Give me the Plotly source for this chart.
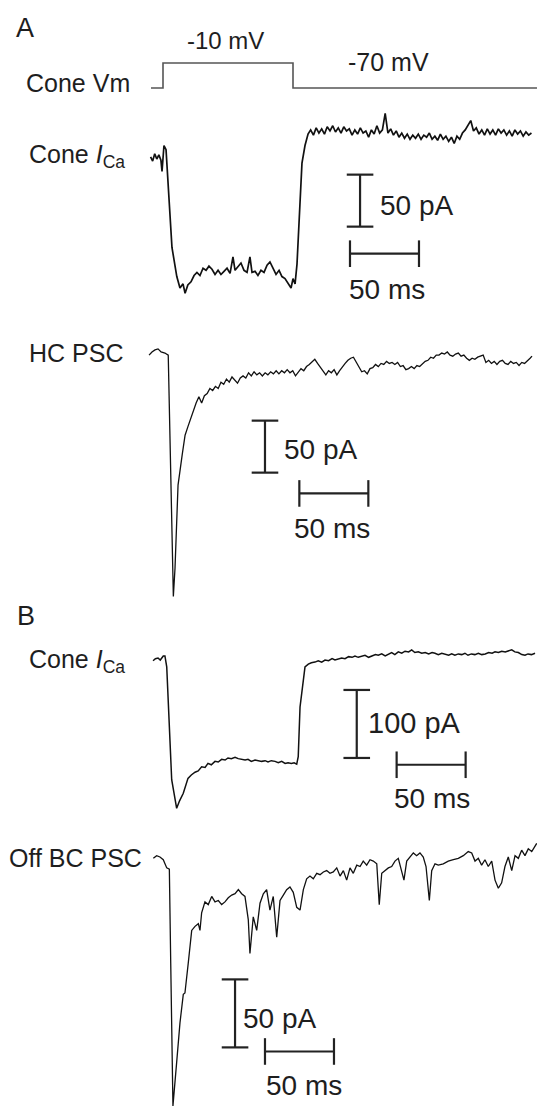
import plotly.graph_objects as go

# ---------------- data (time in ms from step onset, current in pA, voltage in mV)
t_vm = [-8.7, 0, 0, 94.2, 94.2, 271.0]
v_vm = [-70, -70, -10, -10, -70, -70]

t_a_ica = [-9, -7.5, -6, -4.5, -3, -1.5, -0.7, 0.7, 2.2, 6.5, 10, 12.3, 14.5, 16, 18, 20.3, 22.5, 24.6, 26.8,
           29, 31.2, 33.3, 35.5, 37.7, 39.9, 42, 44.2, 46.4, 48.6, 50.7, 52.2, 54.3, 56.5, 58.7, 60.9, 63, 64.5,
           66.7, 68.8, 71, 73.2, 75.4, 77.5, 79.7, 81.9, 84.1, 86.2, 88.4, 90.6, 92.8, 94.2, 95.7, 97.1, 99.3,
           100.7, 102.9, 105.1,
           107, 109, 111, 113, 115, 117, 119, 121, 123, 125, 127, 129, 131, 133, 135, 137, 139, 141, 143, 145,
           147, 149, 151, 153, 155, 157, 159, 161, 163, 165, 167, 169, 171, 173, 175, 177, 179, 181, 183, 185,
           187, 189, 191, 193, 195, 197, 199, 201, 203, 205, 207, 209, 211, 213, 215, 217, 219, 221, 223, 225,
           227, 229, 231, 233, 235, 237, 239, 241, 243, 245, 247, 249, 251, 253, 255, 257, 259, 261, 263, 265, 267]
i_a_ica = [1, -3, 4, -1, 3, -2, -13, 12, 8, -86, -114, -125, -121, -130, -122, -119, -113, -110, -113,
           -106, -108, -104, -107, -112, -108, -112, -109, -106, -111, -95, -108, -104, -101, -108, -110, -95, -110,
           -109, -113, -108, -110, -103, -100, -106, -112, -108, -114, -116, -120, -125, -116, -121, -102, -40,
           -5, 12, 23,
           27, 22, 29, 24, 28, 23, 30, 26, 31, 25, 29, 24, 30, 26, 28, 22, 27, 23, 29, 24,
           26, 20, 27, 23, 31, 24, 27, 43, 24, 28, 22, 26, 20, 24, 19, 23, 18, 22, 19, 23,
           18, 22, 20, 24, 18, 21, 17, 23, 18, 21, 16, 20, 14, 21, 18, 24, 27, 32, 36, 26,
           29, 23, 27, 22, 28, 23, 27, 22, 28, 24, 27, 22, 26, 21, 27, 23, 26, 21, 25, 22, 24]

t_hc = [-10.1, -8, -5.8, -3.6, -1.4, 1.4, 3.8, 7.5, 8.7, 10.9,
        14, 16, 18, 20, 22, 24, 26, 28, 30, 32,
        34, 36, 38, 40, 42, 44, 46, 48, 50, 52,
        54, 56, 58, 60, 62, 64, 66, 68, 70, 72,
        74, 76, 78, 80, 82, 84, 86, 88, 90, 92,
        94, 96, 98, 100, 102, 104, 106, 108, 110, 112,
        114, 116, 118, 120, 122, 124, 126, 128, 130, 132,
        134, 136, 138, 140, 142, 144, 146, 148, 150, 152,
        154, 156, 158, 160, 162, 164, 166, 168, 170, 172,
        174, 176, 178, 180, 182, 184, 186, 188, 190, 192,
        194, 196, 198, 200, 202, 204, 206, 208, 210, 212,
        214, 216, 218, 220, 222, 224, 226, 228, 230, 232,
        234, 236, 238, 240, 242, 244, 246, 248, 250, 252,
        254, 256, 258, 260, 262, 264, 266, 267.4]
i_hc = [-3, 0, 2, 3, 0, -1, -3, -235, -208, -128,
        -98, -80, -72, -64, -55, -49, -43, -49, -42, -40,
        -35, -37, -33, -35, -29, -31, -26, -29, -24, -27,
        -30, -25, -23, -25, -20, -23, -19, -22, -20, -23,
        -20, -22, -19, -21, -18, -21, -18, -20, -17, -20,
        -18, -23, -20, -16, -18, -14, -12, -9, -7, -11,
        -15, -19, -22, -18, -20, -17, -22, -18, -14, -11,
        -8, -6, -5, -10, -15, -19, -18, -21, -16, -15,
        -12, -14, -11, -12, -9, -11, -10, -12, -10, -14,
        -13, -17, -16, -14, -16, -13, -14, -11, -9, -8,
        -5, -6, -3, -3, -1, -2, 0, -3, -4, -2,
        -1, -4, -3, -6, -8, -6, -7, -5, -4, -3,
        -10, -8, -11, -9, -12, -9, -8, -11, -12, -9,
        -11, -10, -13, -10, -11, -8, -6, -4]

t_b_ica = [-7.2, -5.5, -3.6, -2, 0.2, 1.4, 2.7, 6.3, 9.9, 12,
           14.7, 16.5, 18.1, 20.5, 23.2, 25.5, 28, 30.5, 32.6, 35,
           37.7, 40, 42.5, 45, 47.1, 49.5, 52.2, 54.5, 57, 59.5,
           61.6, 64, 66.7, 69, 71.5, 74, 76.1, 78.5, 81.2, 83.5,
           86, 88.5, 90.6, 93, 95, 96.9, 98, 99.3, 101.7, 102.9,
           105.3, 107.5, 110.1, 112.5, 115, 117.4, 120, 122.5, 124.6, 127,
           129.5, 131.9, 134.5, 137, 139.1, 141.5, 144, 146.4, 149, 151.5,
           154, 156, 158.5, 161, 163.5, 165.7, 168, 170.5, 173, 175.4,
           178, 180.2, 182.5, 185, 187.5, 190, 192.5, 195, 197.1, 199.5,
           202, 204.5, 207, 209.2, 211.5, 214, 216.5, 218.8, 221, 223.5,
           226, 228.5, 231, 233.5, 236, 238.5, 240.6, 243, 245.5, 248,
           250.5, 252.7, 255, 257.5, 260, 262.3, 264.5, 267, 269.6]
i_b_ica = [-4, -1, 0, -3, 3, 3, -13, -179, -221, -210,
           -199, -186, -177, -172, -168, -166, -160, -161, -155, -157,
           -152, -153, -149, -150, -147, -148, -146, -148, -149, -150,
           -149, -152, -150, -151, -152, -151, -153, -151, -152, -154,
           -152, -155, -154, -155, -154, -156, -145, -72, -27, -13,
           -9, -7, -6, -4, -6, -3, -4, -1, -3, -2,
           0, -1, 2, 1, 3, 1, 2, 4, 1, 3,
           5, 4, 6, 3, 6, 8, 5, 9, 7, 10,
           9, 12, 8, 9, 7, 8, 6, 8, 7, 5,
           7, 5, 4, 6, 4, 6, 5, 7, 4, 6,
           5, 7, 5, 6, 8, 7, 9, 8, 10, 9,
           11, 12, 9, 8, 5, 4, 6, 5, 7]

t_offbc = [-7.0, -4.6, -2.2, 0.2, 2.7, 4.6, 5.6, 7.2, 9.9, 12.3,
           14.7, 15.9, 18.3, 20.8, 23.2, 25.6, 26.8, 28.0, 30.4, 32.8,
           35.3, 37.7, 40.1, 42.5, 44.9, 47.3, 49.8, 52.2, 54.6, 57.0,
           59.4, 61.8, 63.0, 65.4, 67.9, 70.3, 72.7, 75.1, 77.5, 79.9,
           82.4, 84.8, 87.2, 89.6, 92.0, 94.4, 96.9, 99.3, 101.7, 104.1,
           106.5, 108.9, 111.4, 113.8, 116.2, 118.6, 121.0, 123.4, 125.9, 128.3,
           130.7, 133.1, 135.5, 137.9, 140.4, 142.8, 145.1, 147.6, 150.0, 152.4,
           154.9, 156.7, 158.5, 160.9, 163.3, 165.7, 168.1, 170.5, 173.0, 174.6,
           176.6, 179.0, 181.4, 183.8, 186.2, 188.6, 190.6, 193.0, 194.7, 197.1,
           199.5, 203.1, 206.7, 210.4, 214.0, 217.6, 221.2, 223.7, 226.1, 228.5,
           230.9, 233.3, 235.7, 238.2, 240.6, 243.0, 245.4, 247.8, 250.2, 252.7,
           255.1, 257.5, 259.9, 262.3, 264.7, 267.2, 270.8]
i_offbc = [-1, 1, 0, -2, -8, -9, -78, -183, -151, -122,
           -101, -100, -78, -54, -51, -49, -54, -41, -33, -35,
           -29, -33, -32, -35, -33, -30, -28, -27, -24, -27,
           -29, -46, -71, -44, -54, -34, -27, -24, -39, -29,
           -59, -32, -28, -24, -22, -26, -37, -39, -24, -16,
           -14, -16, -12, -13, -11, -10, -12, -11, -8, -14,
           -10, -17, -8, -12, -6, -7, -3, -6, -2, -3,
           -5, -35, -12, -10, -8, -7, -3, -1, -10, -17,
           -3, 0, 3, 1, 3, 0, -7, -32, -10, -5,
           -6, -5, -3, -2, -1, 1, 4, 3, -3, -1,
           -6, -2, -7, -3, -17, -23, -19, -7, 0, -10,
           1, -1, 5, 1, 6, 4, 10]

# scale bars: [time of vertical bar, top current, pA length, current of time bar, time start, ms length]
sb_a_ica = [142.8, -16, 50, -92, 135.5, 50]
sb_hc = [73.9, -66, 50, -136, 98.8, 50]
sb_b_ica = [140.4, -47, 100, -157, 169.3, 50]
sb_offbc = [52.2, -90, 50, -143, 73.9, 50]

for a, b in [(t_a_ica, i_a_ica), (t_hc, i_hc), (t_b_ica, i_b_ica), (t_offbc, i_offbc)]:
    assert len(a) == len(b), (len(a), len(b))

# ---------------- layout helpers
W, H = 537, 1106
PX_PER_MS = 1.38
T_ONSET_PX = 163
FONT = "Liberation Sans, Arial, sans-serif"
TXT = "#1e1e1e"


def yrange(base_px, px_per_unit, base_val=0.0):
    top = base_val + base_px / px_per_unit
    return [top - H / px_per_unit, top]


fig = go.Figure()

axes = {
    "y": yrange(88, 25 / 60, -70),   # Vm
    "y2": yrange(158, 1.04),          # A cone ICa
    "y3": yrange(352, 1.04),          # HC PSC
    "y4": yrange(658, 0.68),          # B cone ICa
    "y5": yrange(857, 1.36),          # Off BC PSC
}

fig.add_trace(go.Scatter(x=t_vm, y=v_vm, mode="lines", line=dict(color="#555555", width=1.6), yaxis="y"))
fig.add_trace(go.Scatter(x=t_a_ica, y=i_a_ica, mode="lines", line=dict(color="#111111", width=1.7), yaxis="y2"))
fig.add_trace(go.Scatter(x=t_hc, y=i_hc, mode="lines", line=dict(color="#111111", width=1.3), yaxis="y3"))
fig.add_trace(go.Scatter(x=t_b_ica, y=i_b_ica, mode="lines", line=dict(color="#111111", width=1.5), yaxis="y4"))
fig.add_trace(go.Scatter(x=t_offbc, y=i_offbc, mode="lines", line=dict(color="#111111", width=1.3), yaxis="y5"))


def scale_bar(sb, yax):
    tv, itop, ilen, ih, ts, tlen = sb
    fig.add_trace(go.Scatter(x=[tv, tv], y=[itop, itop - ilen], mode="lines+markers", yaxis=yax,
                             line=dict(color="#222222", width=2.2),
                             marker=dict(symbol="line-ew", size=19, line=dict(color="#222222", width=2.2))))
    fig.add_trace(go.Scatter(x=[ts, ts + tlen], y=[ih, ih], mode="lines+markers", yaxis=yax,
                             line=dict(color="#222222", width=2.2),
                             marker=dict(symbol="line-ns", size=19, line=dict(color="#222222", width=2.2))))


scale_bar(sb_a_ica, "y2")
scale_bar(sb_hc, "y3")
scale_bar(sb_b_ica, "y4")
scale_bar(sb_offbc, "y5")


def label(text, xpx, ypx, xanchor="center", size=25):
    fig.add_annotation(x=xpx / W, y=1 - ypx / H, xref="paper", yref="paper", text=text, showarrow=False,
                       xanchor=xanchor, yanchor="middle", font=dict(family=FONT, size=size, color=TXT))


label("A", 25, 28, size=27)
label("-10 mV", 225, 40, size=24)
label("-70 mV", 388, 62, size=25)
label("Cone Vm", 132, 83, xanchor="right", size=25)
label("Cone <i>I</i><sub>Ca</sub>", 27, 156, xanchor="left", size=25)
label("50 pA", 378, 205, xanchor="left", size=28)
label("50 ms", 387, 289, size=28)
label("HC PSC", 27, 353, xanchor="left", size=25)
label("50 pA", 282, 449, xanchor="left", size=28)
label("50 ms", 332, 529, size=28)
label("B", 26, 616, size=27)
label("Cone <i>I</i><sub>Ca</sub>", 27, 661, xanchor="left", size=25)
label("100 pA", 366, 723, xanchor="left", size=29)
label("50 ms", 432, 798, size=28)
label("Off BC PSC", 7, 858, xanchor="left", size=25)
label("50 pA", 241, 1018, xanchor="left", size=28)
label("50 ms", 304, 1085, size=28)

layout_axes = {}
for k, rng in axes.items():
    name = "yaxis" if k == "y" else "yaxis" + k[1:]
    d = dict(range=rng, visible=False, fixedrange=True, domain=[0, 1])
    if k != "y":
        d["overlaying"] = "y"
    layout_axes[name] = d

fig.update_layout(
    width=W, height=H,
    margin=dict(l=0, r=0, t=0, b=0),
    paper_bgcolor="white", plot_bgcolor="white",
    showlegend=False,
    xaxis=dict(range=[-T_ONSET_PX / PX_PER_MS, (W - T_ONSET_PX) / PX_PER_MS], visible=False, fixedrange=True),
    **layout_axes,
)

fig.write_html("out.html", config={"displayModeBar": False},
               post_script="document.body.style.margin='0';document.body.style.overflow='hidden';")
